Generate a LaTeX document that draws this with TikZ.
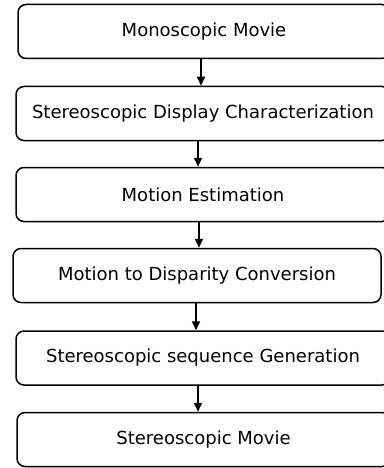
\documentclass[tikz,border=0pt]{standalone}
\usepackage{fontspec}
\setmainfont{DejaVu Sans}
\usetikzlibrary{arrows.meta,positioning}

\tikzset{
  stagebox/.style={draw, line width=1.5pt, rounded corners=8pt, fill=white,
    minimum height=54pt, inner sep=0pt, font=\fontsize{18}{20}\selectfont},
  flow/.style={line width=1.5pt, -{Triangle[width=8pt,length=9pt]}}
}

\begin{document}
\begin{tikzpicture}[x=1pt, y=-1pt]
  \useasboundingbox (0,0) rectangle (383,468);
  % stages of the conversion
  \node[stagebox, minimum width=372pt] (b1) at (204,31.5) {Monoscopic Movie};
  \node[stagebox, minimum width=374pt] (b2) at (203,113.5) {Stereoscopic Display Characterization};
  \node[stagebox, minimum width=374pt] (b3) at (203,194.5) {Motion Estimation};
  \node[stagebox, minimum width=368pt] (b4) at (197,275.5) {Motion to Disparity Conversion};
  \node[stagebox, minimum width=374pt] (b5) at (203,358) {Stereoscopic sequence Generation};
  \node[stagebox, minimum width=373pt] (b6) at (203.5,439.5) {Stereoscopic Movie};
  % arrow positions
  \coordinate (x1) at (201,0);
  \coordinate (x2) at (198,0);
  \coordinate (x3) at (199,0);
  \coordinate (x4) at (196,0);
  \coordinate (x5) at (198,0);
  \foreach \a/\b/\x in {b1/b2/x1, b2/b3/x2, b3/b4/x3, b4/b5/x4, b5/b6/x5}
    \draw[flow] (\a.south -| \x) -- (\b.north -| \x);
\end{tikzpicture}
\end{document}
